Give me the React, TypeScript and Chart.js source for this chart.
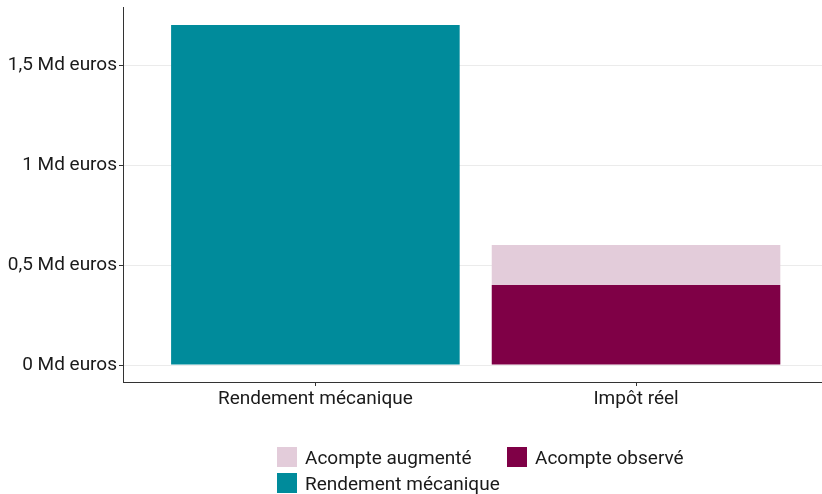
import React, { useEffect, useRef } from "react";
import { Chart, registerables } from "chart.js";

Chart.register(...registerables);

const categories = ["Rendement mécanique", "Impôt réel"];
const categoryPositions = [1, 2];
const rendementMecanique = [1.7, null];
const acompteObserve = [null, 0.4];
const acompteAugmente = [null, 0.2];
const yTickValues = [0, 0.5, 1, 1.5];
const yTickLabels = ["0 Md euros", "0,5 Md euros", "1 Md euros", "1,5 Md euros"];

const COLORS = {
  rendement: "#008b9b",
  observe: "#7f0046",
  augmente: "#e3ccda",
};

const FONT = "Roboto";
const FONT_SIZE = 19;

const legendItems = [
  { label: "Acompte augmenté", color: COLORS.augmente, left: 277, top: 447 },
  { label: "Acompte observé", color: COLORS.observe, left: 507, top: 447 },
  { label: "Rendement mécanique", color: COLORS.rendement, left: 277, top: 473 },
];

export default function App() {
  const canvasRef = useRef<HTMLCanvasElement | null>(null);

  useEffect(() => {
    document.body.style.margin = "0";
    const canvas = canvasRef.current;
    if (!canvas) return;
    const toPoints = (arr: (number | null)[]) =>
      arr.map((v, i) => ({ x: categoryPositions[i], y: v }));

    const barCommon = { categoryPercentage: 1, barPercentage: 0.9 };

    const chart = new Chart(canvas, {
      type: "bar",
      data: {
        datasets: [
          {
            label: "Acompte observé",
            data: toPoints(acompteObserve) as any,
            backgroundColor: COLORS.observe,
            ...barCommon,
          },
          {
            label: "Acompte augmenté",
            data: toPoints(acompteAugmente) as any,
            backgroundColor: COLORS.augmente,
            ...barCommon,
          },
          {
            label: "Rendement mécanique",
            data: toPoints(rendementMecanique) as any,
            backgroundColor: COLORS.rendement,
            ...barCommon,
          },
        ],
      },
      options: {
        animation: false,
        responsive: false,
        maintainAspectRatio: false,
        layout: { padding: { top: 7, right: 0, left: 0, bottom: 0 } },
        plugins: {
          legend: { display: false },
          tooltip: { enabled: false },
        },
        scales: {
          x: {
            type: "linear",
            stacked: true,
            offset: false,
            min: 0.4,
            max: 2.58,
            afterBuildTicks: (scale: any) => {
              scale.ticks = categoryPositions.map((v) => ({ value: v }));
            },
            afterFit: (scale: any) => {
              scale.height = 112;
              scale.paddingLeft = 0;
              scale.paddingRight = 0;
            },
            ticks: {
              autoSkip: false,
              maxRotation: 0,
              padding: 2,
              color: "#1a1a1a",
              font: { family: FONT, size: FONT_SIZE },
              callback: (v: any) => categories[categoryPositions.indexOf(Number(v))] ?? "",
            },
            grid: {
              offset: false,
              drawOnChartArea: false,
              drawTicks: true,
              tickLength: 4,
              tickColor: "#333333",
            },
            border: { display: true, color: "#333333", width: 1 },
          },
          y: {
            type: "linear",
            stacked: true,
            min: -0.085,
            max: 1.79,
            afterBuildTicks: (scale: any) => {
              scale.ticks = yTickValues.map((v) => ({ value: v }));
            },
            afterFit: (scale: any) => {
              scale.width = 123;
              scale.paddingTop = 0;
              scale.paddingBottom = 0;
            },
            ticks: {
              padding: 2,
              color: "#1a1a1a",
              font: { family: FONT, size: FONT_SIZE },
              callback: (v: any) => yTickLabels[yTickValues.indexOf(Number(v))] ?? "",
            },
            grid: {
              color: "#ebebeb",
              lineWidth: 1,
              drawTicks: true,
              tickLength: 4,
              tickColor: "#333333",
            },
            border: { display: true, color: "#333333", width: 1 },
          },
        },
      },
    });
    return () => chart.destroy();
  }, []);

  return (
    <div style={{ position: "relative", width: 822, height: 494, background: "#fff" }}>
      <canvas ref={canvasRef} width={822} height={494} style={{ display: "block" }} />
      {legendItems.map((item) => (
        <div
          key={item.label}
          style={{
            position: "absolute",
            left: item.left,
            top: item.top,
            display: "flex",
            alignItems: "center",
            fontFamily: FONT,
            fontSize: FONT_SIZE,
            color: "#1a1a1a",
            height: 20,
            whiteSpace: "nowrap",
          }}
        >
          <span
            style={{
              display: "inline-block",
              width: 20,
              height: 20,
              background: item.color,
              marginRight: 8,
            }}
          />
          <span>{item.label}</span>
        </div>
      ))}
    </div>
  );
}
